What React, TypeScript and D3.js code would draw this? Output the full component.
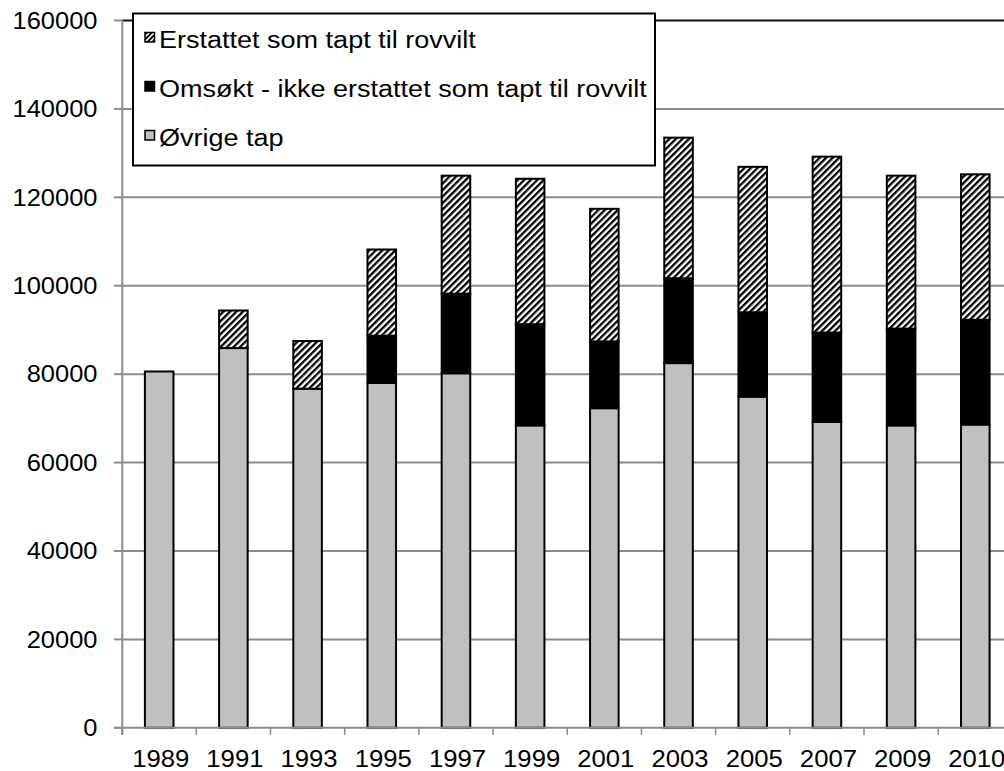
import React from "react";
import * as d3 from "d3";

const years = ["1989", "1991", "1993", "1995", "1997", "1999", "2001", "2003", "2005", "2007", "2009", "2010"];
const ovrigeTap = [80600, 85900, 76700, 78000, 80200, 68400, 72300, 82500, 74900, 69200, 68400, 68600];
const omsoktIkkeErstattet = [0, 0, 0, 10700, 18000, 22900, 15100, 19200, 19100, 20200, 21900, 23700];
const erstattet = [0, 8500, 10800, 19500, 26700, 32900, 30000, 31800, 32900, 39800, 34600, 32900];
const yTicks = [0, 20000, 40000, 60000, 80000, 100000, 120000, 140000, 160000];
const seriesNames = ["Erstattet som tapt til rovvilt", "Omsøkt - ikke erstattet som tapt til rovvilt", "Øvrige tap"];

const W = 1004;
const H = 771;
const FONT = "'Liberation Sans', Arial, sans-serif";

export default function App() {
  const rows = years.map((y, i) => ({
    year: y,
    ovrige: ovrigeTap[i],
    omsokt: omsoktIkkeErstattet[i],
    erstattet: erstattet[i],
  }));
  const keys = ["ovrige", "omsokt", "erstattet"];
  const stack = d3.stack<any>().keys(keys)(rows);

  const x = d3.scaleBand().domain(years).range([122.1, 1012.4]).padding(0);
  const y = d3.scaleLinear().domain([0, 160000]).range([727.8, 20.5]);
  const bw = x.bandwidth() * 0.385;
  const fills: Record<string, string> = {
    ovrige: "#c0c0c0",
    omsokt: "#000000",
    erstattet: "url(#hatch)",
  };

  const legendFills = ["url(#hatchL)", "#000000", "#c0c0c0"];

  return (
    <svg
      width={W}
      height={H}
      style={{ position: "absolute", left: 0, top: 0, background: "#fff" }}
      fontFamily={FONT}
    >
      <defs>
        <pattern id="hatch" patternUnits="userSpaceOnUse" width={4.6} height={4.6} patternTransform="rotate(45)">
          <rect width={4.6} height={4.6} fill="#fff" />
          <rect width={2.3} height={4.6} fill="#000" />
        </pattern>
        <pattern id="hatchL" patternUnits="userSpaceOnUse" width={3.5} height={3.5} patternTransform="rotate(45)">
          <rect width={3.5} height={3.5} fill="#fff" />
          <rect width={1.8} height={3.5} fill="#000" />
        </pattern>
      </defs>
      <rect width={W} height={H} fill="#fff" />

      {/* gridlines */}
      {yTicks.map((t) =>
        t === 0 || t === 160000 ? null : (
          <line key={t} x1={122.3} x2={W} y1={y(t)} y2={y(t)} stroke="#8c8c8c" strokeWidth={2} />
        )
      )}
      <line x1={122.3} x2={W} y1={y(160000)} y2={y(160000)} stroke="#111" strokeWidth={2} />

      {/* y axis */}
      <line x1={122.3} x2={122.3} y1={y(160000)} y2={735} stroke="#8c8c8c" strokeWidth={2} />
      {yTicks.map((t) => (
        <g key={"yt" + t}>
          <line x1={114} x2={122.3} y1={y(t)} y2={y(t)} stroke="#8c8c8c" strokeWidth={2} />
          <text
            transform={`translate(97.5,${y(t)}) scale(1.085,1)`}
            dy="0.35em"
            textAnchor="end"
            fontSize={23.5}
            fill="#000"
          >
            {t}
          </text>
        </g>
      ))}

      {/* bars */}
      {stack.map((s) => (
        <g key={s.key}>
          {s.map((d, i) => {
            const v = d[1] - d[0];
            if (v <= 0) return null;
            const bx = (x(years[i]) as number) + (x.bandwidth() - bw) / 2;
            return (
              <rect
                key={i}
                x={bx}
                y={y(d[1])}
                width={bw}
                height={y(d[0]) - y(d[1])}
                fill={fills[s.key]}
                stroke="#000"
                strokeWidth={2}
              />
            );
          })}
        </g>
      ))}

      {/* x axis */}
      <line x1={114} x2={W} y1={y(0)} y2={y(0)} stroke="#8c8c8c" strokeWidth={2} />
      {years.map((yr) => (
        <line
          key={"xt" + yr}
          x1={x(yr) as number}
          x2={x(yr) as number}
          y1={y(0)}
          y2={735}
          stroke="#8c8c8c"
          strokeWidth={1.5}
        />
      ))}
      {years.map((yr) => (
        <text
          key={"xl" + yr}
          transform={`translate(${(x(yr) as number) + x.bandwidth() / 2 + 1.5},767) scale(1.07,1)`}
          textAnchor="middle"
          fontSize={24}
          fill="#000"
        >
          {yr}
        </text>
      ))}

      {/* legend */}
      <rect x={133} y={13.5} width={522} height={152} fill="#fff" stroke="#000" strokeWidth={2} />
      {seriesNames.map((name, i) => (
        <g key={name}>
          <rect
            x={145}
            y={32.5 + i * 49}
            width={9.5}
            height={9.5}
            fill={legendFills[i]}
            stroke="#000"
            strokeWidth={1.5}
          />
          <text
            transform={`translate(159,${48 + i * 49}) scale(1.175,1)`}
            fontSize={23}
            fill="#000"
          >
            {name}
          </text>
        </g>
      ))}
    </svg>
  );
}
